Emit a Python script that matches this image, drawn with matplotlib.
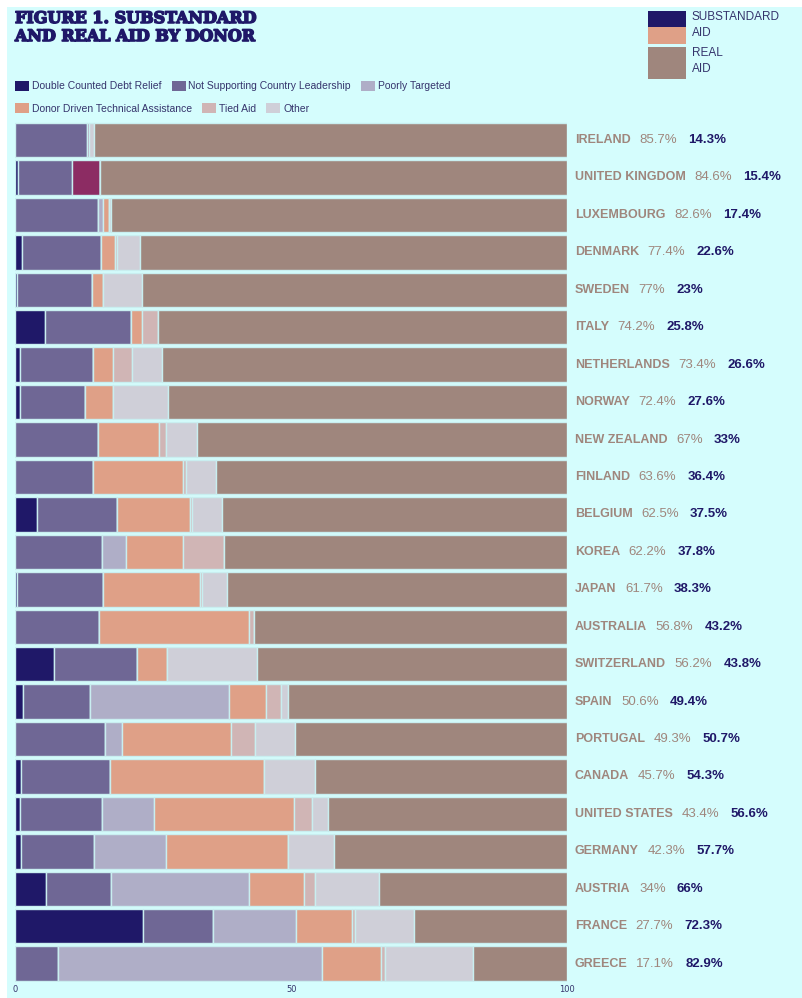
import matplotlib
matplotlib.use('Agg')
import matplotlib.pyplot as plt
import matplotlib.patheffects as pe
from matplotlib.patches import Rectangle
from matplotlib.offsetbox import TextArea, HPacker, AnnotationBbox

# data, top to bottom as in the figure
countries = ['IRELAND', 'UNITED KINGDOM', 'LUXEMBOURG', 'DENMARK', 'SWEDEN', 'ITALY',
             'NETHERLANDS', 'NORWAY', 'NEW ZEALAND', 'FINLAND', 'BELGIUM', 'KOREA',
             'JAPAN', 'AUSTRALIA', 'SWITZERLAND', 'SPAIN', 'PORTUGAL', 'CANADA',
             'UNITED STATES', 'GERMANY', 'AUSTRIA', 'FRANCE', 'GREECE']
real_aid = [85.7, 84.6, 82.6, 77.4, 77, 74.2, 73.4, 72.4, 67, 63.6, 62.5, 62.2,
            61.7, 56.8, 56.2, 50.6, 49.3, 45.7, 43.4, 42.3, 34, 27.7, 17.1]
substandard = [14.3, 15.4, 17.4, 22.6, 23, 25.8, 26.6, 27.6, 33, 36.4, 37.5, 37.8,
               38.3, 43.2, 43.8, 49.4, 50.7, 54.3, 56.6, 57.7, 66, 72.3, 82.9]

double_counted = [0, 0.4, 0, 1.2, 0.3, 5.3, 0.9, 0.8, 0, 0, 4.0, 0,
                  0.3, 0, 7.0, 1.4, 0, 1.1, 0.8, 1.1, 5.6, 23.1, 0]
not_supporting = [13.0, 9.8, 14.9, 14.3, 13.6, 15.7, 13.2, 11.9, 15.0, 14.1, 14.5, 15.7,
                  15.6, 15.1, 15.1, 12.2, 16.3, 16.0, 14.9, 13.1, 11.8, 12.8, 7.8]
unlabelled = [0.4, 5.2, 0, 0, 0, 0, 0, 0, 0, 0, 0, 0,
              0, 0, 0, 0, 0, 0, 0, 0, 0, 0, 0]
poorly_targeted = [0, 0, 0.9, 0, 0, 0, 0, 0, 0, 0, 0, 4.3,
                   0, 0, 0, 25.1, 3.1, 0, 9.5, 13.1, 24.9, 15.0, 47.8]
donor_driven_ta = [0, 0, 1.2, 2.6, 2.0, 2.0, 3.6, 5.0, 11.0, 16.3, 13.2, 10.4,
                   17.6, 27.3, 5.3, 6.8, 19.7, 28.0, 25.3, 22.2, 10.0, 10.1, 10.6]
tied_aid = [0, 0, 0, 0.4, 0, 2.8, 3.4, 0, 1.3, 0.6, 0.4, 7.4,
            0.4, 0.8, 0, 2.6, 4.4, 0, 3.3, 0, 2.1, 0.5, 0.8]
other = [0.9, 0, 0.4, 4.1, 7.1, 0, 5.5, 9.9, 5.7, 5.4, 5.4, 0,
         4.4, 0, 16.4, 1.3, 7.2, 9.2, 2.8, 8.2, 11.6, 10.8, 15.9]

series = [
    ('Double Counted Debt Relief', double_counted, '#1f1868'),
    ('Not Supporting Country Leadership', not_supporting, '#6f6795'),
    (None, unlabelled, '#8c2c63'),
    ('Poorly Targeted', poorly_targeted, '#afaec7'),
    ('Donor Driven Technical Assistance', donor_driven_ta, '#dfa087'),
    ('Tied Aid', tied_aid, '#d0b5b5'),
    ('Other', other, '#cfcfd8'),
]

bg = '#d5fdfd'
navy = '#1f1868'
taupe = '#9f867d'
salmon = '#dfa087'
textnavy = '#35346c'

W, H = 802, 998
fig = plt.figure(figsize=(W / 100, H / 100), dpi=100, facecolor='white')
fig.patches.append(Rectangle((7 / W, 0), 1, 991 / H, transform=fig.transFigure,
                             facecolor=bg, edgecolor='none', zorder=-10))

ax = fig.add_axes([15.4 / W, 1 - 982.4 / H, 551.6 / W, 861.1 / H])
ax.set_facecolor('none')

y = list(range(len(countries)))
left = [0.0] * len(countries)
handles = {}
for name, vals, col in series:
    b = ax.barh(y, vals, left=left, height=0.92, color=col,
                edgecolor='#c9eef0', linewidth=1.0)
    if name:
        handles[name] = b
    left = [l + v for l, v in zip(left, vals)]
ax.barh(y, real_aid, left=left, height=0.92, color=taupe,
        edgecolor='#c9eef0', linewidth=1.0)

ax.set_xlim(0, 100)
ax.set_ylim(len(countries) - 0.5, -0.5)
ax.set_yticks([])
ax.set_xticks([0, 50, 100])
ax.tick_params(axis='x', length=0, pad=2, labelsize=6, labelcolor=textnavy)
for s in ax.spines.values():
    s.set_visible(False)

# labels at the right of each bar
for i, c in enumerate(countries):
    name = TextArea(c, textprops=dict(color=taupe, fontweight='bold', fontsize=9,
                                      family='Liberation Sans'))
    r = TextArea(f'{real_aid[i]:g}%', textprops=dict(color=taupe, fontsize=9.5,
                                                    family='Liberation Sans'))
    s = TextArea(f'{substandard[i]:g}%', textprops=dict(color=navy, fontweight='bold',
                                                       fontsize=9.5, family='Liberation Sans'))
    box = HPacker(children=[name, HPacker(children=[r, s], sep=8, pad=0, align='baseline')],
                  sep=6.5, pad=0, align='baseline')
    ab = AnnotationBbox(box, (100, i), xybox=(5.5, 0), xycoords='data',
                        boxcoords='offset points', box_alignment=(0, 0.5),
                        frameon=False, annotation_clip=False)
    ax.add_artist(ab)

# title
fig.text(15 / W, 1 - 10 / H, 'FIGURE 1. SUBSTANDARD\nAND REAL AID BY DONOR',
         family='DejaVu Serif', fontweight='bold', fontsize=11.5, color=navy,
         va='top', ha='left', linespacing=1.08,
         path_effects=[pe.withStroke(linewidth=1.1, foreground=navy)])

# category legends, two rows
row1 = ['Double Counted Debt Relief', 'Not Supporting Country Leadership', 'Poorly Targeted']
row2 = ['Donor Driven Technical Assistance', 'Tied Aid', 'Other']
for names, yc in [(row1, 86), (row2, 108.5)]:
    leg = fig.legend([handles[n] for n in names], names, ncol=3, loc='center left',
                     bbox_to_anchor=(15 / W, 1 - yc / H), frameon=False,
                     prop={'family': 'Liberation Sans', 'size': 7.5},
                     labelcolor=textnavy, handlelength=1.35, handleheight=1.15,
                     handletextpad=0.25, columnspacing=1.0, borderpad=0,
                     borderaxespad=0)
    for h in leg.legend_handles:
        h.set_edgecolor('none')

# substandard / real key at top right
fig.patches.append(Rectangle((648 / W, 1 - 27 / H), 38 / W, 16 / H, transform=fig.transFigure,
                             facecolor=navy, edgecolor='none'))
fig.patches.append(Rectangle((648 / W, 1 - 43.5 / H), 38 / W, 16.5 / H, transform=fig.transFigure,
                             facecolor=salmon, edgecolor='none'))
fig.patches.append(Rectangle((648 / W, 1 - 79.5 / H), 38 / W, 32.5 / H, transform=fig.transFigure,
                             facecolor=taupe, edgecolor='none'))
fig.text(692 / W, 1 - 11 / H, 'SUBSTANDARD\nAID', family='Liberation Sans', fontsize=8.5,
         color=textnavy, va='top', ha='left', linespacing=1.45)
fig.text(692 / W, 1 - 47 / H, 'REAL\nAID', family='Liberation Sans', fontsize=8.5,
         color=textnavy, va='top', ha='left', linespacing=1.45)

fig.savefig('out.png', dpi=100, facecolor=fig.get_facecolor())
